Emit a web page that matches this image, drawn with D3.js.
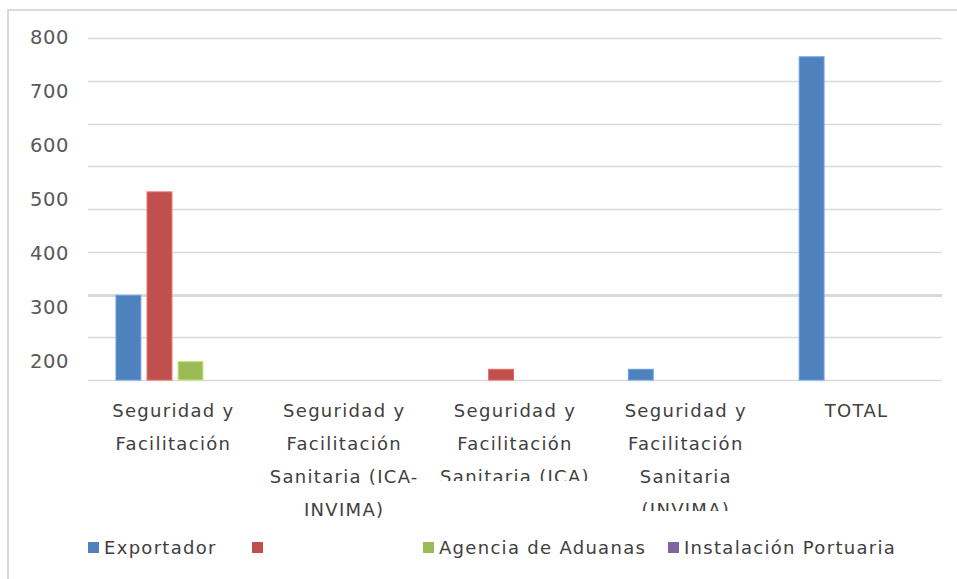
<!DOCTYPE html>
<html><head><meta charset="utf-8">
<script src="https://cdn.jsdelivr.net/npm/d3@7"></script>
<style>body{margin:0;background:#fff}svg{display:block}</style>
</head><body>
<svg id="c" width="957" height="579"></svg>
<script>
// ---- data ----
const categories = [
  ["Seguridad y","Facilitación"],
  ["Seguridad y","Facilitación","Sanitaria (ICA-","INVIMA)"],
  ["Seguridad y","Facilitación","Sanitaria (ICA)"],
  ["Seguridad y","Facilitación","Sanitaria","(INVIMA)"],
  ["TOTAL"]
];
const seriesNames = ["Exportador", "", "Agencia de Aduanas", "Instalación Portuaria"];
const exportador = [198, 0, 0, 25, 756];
const serie2 = [440, 0, 25, 0, 0];
const agencia = [43, 0, 0, 0, 0];
const instalacion = [0, 0, 0, 0, 0];
const gridValues = [0,100,200,300,400,500,600,700,800];
const tickLabels = [800,700,600,500,400,300,200];

const colors = ["#4f81bd","#c0504d","#9bbb59","#8064a2"];
const series = [exportador, serie2, agencia, instalacion];
const FONT = "DejaVu Sans";

const svg = d3.select("#c");
const M = {l:88, r:942, t:38, b:380};

svg.append("path").attr("d","M8,579 L8,10 L957,10").attr("fill","none").attr("stroke","#d9d9d9").attr("stroke-width",2);

const y = d3.scaleLinear().domain([0,800]).range([M.b, M.t]);
const x0 = d3.scaleBand().domain(d3.range(categories.length)).range([M.l, M.r]);
const x1 = d3.scaleBand().domain(d3.range(series.length)).range([28, 146]).paddingInner(0.2);

svg.append("g").selectAll("line").data(gridValues).join("line")
  .attr("x1",M.l).attr("x2",M.r)
  .attr("y1",d=>Math.round(y(d))+0.5).attr("y2",d=>Math.round(y(d))+0.5)
  .attr("stroke","#d9d9d9").attr("stroke-width",d=>d===200?3:1.6);

const yl = d3.scaleLinear().domain([200,800]).range([361,37]);
svg.append("g").selectAll("text").data(tickLabels).join("text")
  .attr("x",69).attr("y",d=>yl(d)).attr("dy","0.35em")
  .attr("text-anchor","end")
  .attr("font-family",FONT).attr("font-size",19.5).attr("letter-spacing",0.6).attr("fill","#595959")
  .text(d=>d);

series.forEach((s,si)=>{
  svg.append("g").selectAll("rect").data(s).join("rect")
    .attr("x",(d,i)=>x0(i)+x1(si))
    .attr("width",x1.bandwidth())
    .attr("y",d=>y(d))
    .attr("height",d=>y(0)-y(d))
    .attr("fill",colors[si])
    .attr("stroke",d3.color(colors[si]).brighter(0.6)).attr("stroke-width",1)
    .attr("display",d=>d>0?null:"none");
});

const clipBottom = [579, 579, 481, 511, 579];
const defs = svg.append("defs");
categories.forEach((lines,i)=>{
  defs.append("clipPath").attr("id","cl"+i).append("rect")
    .attr("x",x0(i)).attr("y",385).attr("width",x0.bandwidth()).attr("height",clipBottom[i]-385);
  const t = svg.append("text").attr("clip-path",`url(#cl${i})`)
    .attr("font-family",FONT).attr("font-size",18).attr("letter-spacing",1.3).attr("fill","#404040")
    .attr("text-anchor","middle");
  lines.forEach((ln,j)=>{
    t.append("tspan").attr("x",x0(i)+x0.bandwidth()/2).attr("y",417+j*33).text(ln);
  });
});

const legX = [88, 252, 423, 668];
const leg = svg.append("g").selectAll("g").data(seriesNames).join("g")
  .attr("transform",(d,i)=>`translate(${legX[i]},542)`);
leg.append("rect").attr("width",11).attr("height",11).attr("fill",(d,i)=>colors[i]);
leg.append("text").attr("x",16).attr("y",6).attr("dy","0.35em")
  .attr("font-family",FONT).attr("font-size",18).attr("letter-spacing",1.3).attr("fill","#404040")
  .text(d=>d);
</script>
</body></html>
